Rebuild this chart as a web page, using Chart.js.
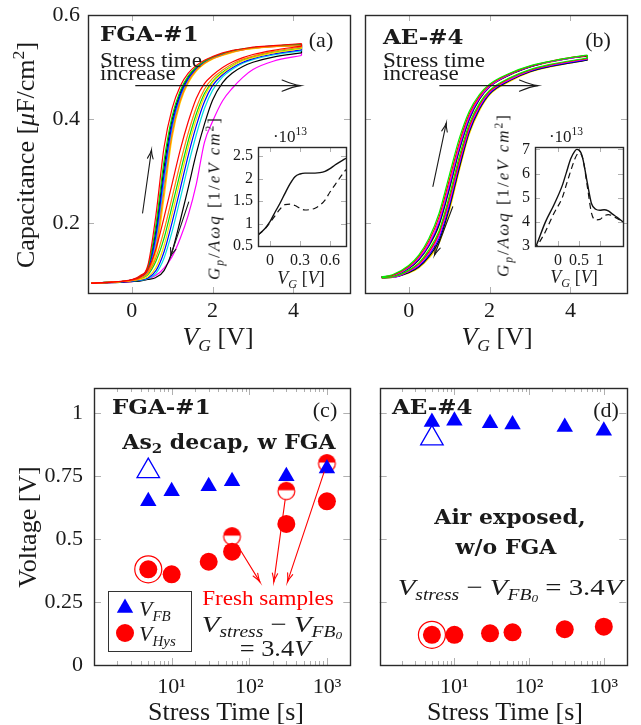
<!DOCTYPE html>
<html>
<head>
<meta charset="utf-8">
<script src="https://cdn.jsdelivr.net/npm/chart.js@4.4.1/dist/chart.umd.min.js"></script>
<style>
  body { margin: 0; width: 641px; height: 725px; position: relative; overflow: hidden; background: #fff;
         font-family: "Liberation Serif", serif; color: #1a1a1a; }
  canvas { position: absolute; }
  .t { position: absolute; white-space: nowrap; line-height: 1; }
  .l { transform-origin: 0 50%; }
  .bf { font-family: "DejaVu Serif", serif; font-weight: bold; }
  .m { font-style: italic; }
  sub { font-size: 68%; vertical-align: -0.32em; line-height: 0; }
  sup { font-size: 68%; vertical-align: 0.55em; line-height: 0; }
  sub sub { vertical-align: -0.22em; }
</style>
</head>
<body>
<canvas id="cvA" width="355" height="330" style="left:0;top:0"></canvas>
<canvas id="cvB" width="286" height="330" style="left:355px;top:0"></canvas>
<canvas id="inA" width="135" height="135" style="left:220px;top:140px"></canvas>
<canvas id="inB" width="141" height="135" style="left:500px;top:140px"></canvas>
<canvas id="stC" width="365" height="355" style="left:0;top:370px"></canvas>
<canvas id="stD" width="276" height="355" style="left:365px;top:370px"></canvas>

<!-- top row text -->
<div class="t" style="left:26px;top:155px;font-size:26px;transform:translate(-50%,-50%) rotate(-90deg)">Capacitance [<span class="m">μ</span>F/cm<sup>2</sup>]</div>
<div class="t" style="left:218px;top:337px;font-size:26px;transform:translate(-50%,-50%)"><span class="m">V<sub>G</sub></span> [V]</div>
<div class="t" style="left:497px;top:337px;font-size:26px;transform:translate(-50%,-50%)"><span class="m">V<sub>G</sub></span> [V]</div>

<div class="t l bf" style="left:100px;top:34px;font-size:20px;transform:translateY(-50%) scaleX(1.15)">FGA-#1</div>
<div class="t l bf" style="left:383px;top:37px;font-size:20px;transform:translateY(-50%) scaleX(1.15)">AE-#4</div>
<div class="t" style="left:321px;top:40px;font-size:22px;transform:translate(-50%,-50%)">(a)</div>
<div class="t" style="left:598px;top:40px;font-size:22px;transform:translate(-50%,-50%)">(b)</div>

<div class="t l" style="left:100px;top:60px;font-size:21px;transform:translateY(-50%) scaleX(1.1)">Stress time</div>
<div class="t l" style="left:100px;top:73px;font-size:21px;transform:translateY(-50%) scaleX(1.1)">increase</div>
<div class="t l" style="left:383px;top:60px;font-size:21px;transform:translateY(-50%) scaleX(1.1)">Stress time</div>
<div class="t l" style="left:383px;top:73px;font-size:21px;transform:translateY(-50%) scaleX(1.1)">increase</div>

<div class="t" style="left:214px;top:198px;font-size:17px;letter-spacing:2px;transform:translate(-50%,-50%) rotate(-90deg)"><span class="m">G<sub>p</sub></span>/<span class="m">Aωq</span> [1/<span class="m">eV cm</span><sup>2</sup>]</div>
<div class="t" style="left:503px;top:195px;font-size:17px;letter-spacing:2px;transform:translate(-50%,-50%) rotate(-90deg)"><span class="m">G<sub>p</sub></span>/<span class="m">Aωq</span> [1/<span class="m">eV cm</span><sup>2</sup>]</div>
<div class="t" style="left:290px;top:136px;font-size:17px;transform:translate(-50%,-50%)">·10<sup>13</sup></div>
<div class="t" style="left:566px;top:136px;font-size:17px;transform:translate(-50%,-50%)">·10<sup>13</sup></div>
<div class="t" style="left:301px;top:278px;font-size:18px;transform:translate(-50%,-50%)"><span class="m">V<sub>G</sub></span> [<span class="m">V</span>]</div>
<div class="t" style="left:574px;top:277px;font-size:18px;transform:translate(-50%,-50%)"><span class="m">V<sub>G</sub></span> [<span class="m">V</span>]</div>

<!-- bottom row text -->
<div class="t" style="left:28px;top:527px;font-size:26px;transform:translate(-50%,-50%) rotate(-90deg)">Voltage [V]</div>
<div class="t" style="left:226px;top:712px;font-size:26px;transform:translate(-50%,-50%)">Stress Time [s]</div>
<div class="t" style="left:505px;top:712px;font-size:26px;transform:translate(-50%,-50%)">Stress Time [s]</div>

<div class="t l bf" style="left:112px;top:407px;font-size:20px;transform:translateY(-50%) scaleX(1.15)">FGA-#1</div>
<div class="t l bf" style="left:392px;top:407px;font-size:20px;transform:translateY(-50%) scaleX(1.15)">AE-#4</div>
<div class="t" style="left:325px;top:410px;font-size:22px;transform:translate(-50%,-50%)">(c)</div>
<div class="t" style="left:606px;top:410px;font-size:22px;transform:translate(-50%,-50%)">(d)</div>

<div class="t bf" style="left:229px;top:442px;font-size:20px;transform:translate(-50%,-50%) scaleX(1.1)">As<sub>2</sub> decap, w FGA</div>
<div class="t" style="left:268px;top:598px;font-size:21px;color:#ff0000;transform:translate(-50%,-50%) scaleX(1.1)">Fresh samples</div>
<div class="t" style="left:272px;top:624px;font-size:24px;transform:translate(-50%,-50%) scaleX(1.2)"><span class="m">V<sub>stress</sub></span> − <span class="m">V<sub>FB<sub>0</sub></sub></span></div>
<div class="t" style="left:275px;top:648px;font-size:24px;transform:translate(-50%,-50%) scaleX(1.1)">= 3.4<span class="m">V</span></div>

<div class="t bf" style="left:510px;top:517px;font-size:20px;transform:translate(-50%,-50%) scaleX(1.1)">Air exposed,</div>
<div class="t bf" style="left:506px;top:547px;font-size:20px;transform:translate(-50%,-50%) scaleX(1.1)">w/o FGA</div>
<div class="t" style="left:510px;top:587px;font-size:24px;transform:translate(-50%,-50%) scaleX(1.2)"><span class="m">V<sub>stress</sub></span> − <span class="m">V<sub>FB<sub>0</sub></sub></span> = 3.4<span class="m">V</span></div>

<div style="position:absolute;left:108px;top:591px;width:84px;height:61px;border:1.3px solid #333;box-sizing:border-box;background:#fff">
  <svg width="84" height="61" style="position:absolute;left:-1px;top:-1px">
    <polygon points="17,7.5 25.2,21.8 8.8,21.8" fill="#0000ff"></polygon>
    <circle cx="17" cy="42" r="9" fill="#ff0000"></circle>
  </svg>
  <div class="t m" style="left:30px;top:17px;font-size:22px;transform:translateY(-50%)">V<sub>FB</sub></div>
  <div class="t m" style="left:30px;top:42px;font-size:22px;transform:translateY(-50%)">V<sub>Hys</sub></div>
</div>

<script>
// ---- C-V sweeps, FGA sample: one loop per stress step (up sweep, down sweep)
var vGridFGA = [-1, -0.5, 0, 0.2, 0.4, 0.6, 0.8, 1.0, 1.2, 1.4, 1.6, 1.8, 2.0, 2.25, 2.5, 2.75, 3.0, 3.5, 4.2];
var colorsFGA = ["#ff0000", "#ff8000", "#ffdd00", "#00e000", "#0000ff", "#00e0e0", "#000000", "#ff00ff"];
var upFGA = [
  [.084, .086, .091, .098, .118, .215, .345, .420, .463, .488, .503, .513, .520, .527, .532, .535, .538, .541, .545],
  [.084, .086, .089, .093, .105, .152, .261, .371, .435, .472, .494, .507, .516, .523, .529, .533, .536, .539, .541],
  [.084, .086, .089, .093, .103, .142, .248, .364, .431, .469, .492, .506, .515, .522, .528, .533, .535, .539, .540],
  [.084, .086, .090, .097, .114, .196, .319, .405, .454, .483, .500, .511, .519, .526, .531, .535, .537, .540, .544],
  [.084, .086, .090, .095, .110, .176, .293, .390, .446, .478, .497, .509, .517, .524, .530, .534, .537, .540, .543],
  [.084, .086, .089, .095, .108, .167, .280, .383, .442, .476, .496, .508, .517, .524, .530, .534, .536, .540, .542],
  [.084, .086, .090, .096, .112, .186, .306, .398, .450, .481, .499, .510, .518, .525, .531, .534, .537, .540, .543],
  [.084, .086, .089, .094, .107, .162, .274, .379, .439, .474, .495, .508, .516, .523, .529, .533, .536, .539, .541]
];
var downFGA = [
  [.084, .086, .090, .095, .110, .150, .210, .275, .340, .395, .440, .468, .484, .499, .510, .518, .524, .532, .540],
  [.084, .086, .089, .093, .103, .133, .185, .249, .314, .373, .422, .457, .478, .494, .506, .515, .521, .530, .538],
  [.084, .086, .089, .091, .096, .114, .156, .217, .282, .346, .400, .443, .470, .488, .502, .512, .518, .527, .535],
  [.084, .086, .089, .092, .100, .126, .170, .232, .296, .358, .410, .449, .472, .490, .503, .513, .519, .528, .536],
  [.084, .086, .088, .090, .094, .108, .144, .201, .265, .330, .387, .433, .464, .485, .499, .509, .516, .525, .533],
  [.084, .086, .088, .089, .093, .103, .132, .183, .246, .311, .370, .420, .455, .481, .496, .507, .514, .523, .531],
  [.084, .085, .087, .088, .091, .095, .108, .145, .204, .268, .334, .390, .436, .470, .489, .501, .509, .519, .527],
  [.084, .085, .087, .089, .092, .099, .113, .135, .170, .215, .275, .355, .395, .435, .460, .480, .495, .511, .522]
];

// ---- C-V sweeps, air exposed sample
var vGridAE = [-0.67, -0.4, 0, 0.25, 0.5, 0.75, 1.0, 1.25, 1.5, 1.75, 2.0, 2.5, 3.0, 3.5, 4.0, 4.42];
var colorsAE = ["#00ee00", "#ff0000", "#ff00ff", "#0000ff", "#000000", "#ffdd00"];
var upAE = [
  [.096, .100, .118, .138, .170, .218, .290, .362, .415, .447, .467, .488, .502, .511, .518, .523],
  [.096, .099, .116, .135, .165, .211, .281, .354, .410, .444, .465, .487, .501, .511, .518, .522],
  [.096, .098, .114, .132, .160, .204, .273, .347, .405, .441, .463, .486, .501, .510, .517, .522],
  [.096, .098, .113, .130, .157, .199, .267, .342, .401, .439, .462, .485, .500, .510, .517, .522],
  [.096, .097, .112, .129, .156, .196, .264, .340, .400, .438, .462, .485, .500, .510, .517, .521],
  [.096, .097, .112, .128, .154, .194, .261, .337, .398, .437, .461, .484, .500, .509, .517, .521]
];
var downAE = [
  [.095, .096, .109, .123, .148, .184, .250, .327, .391, .430, .455, .479, .495, .505, .512, .517],
  [.095, .096, .108, .121, .144, .180, .244, .320, .386, .427, .453, .478, .494, .504, .511, .516],
  [.095, .095, .107, .119, .141, .175, .238, .315, .382, .424, .451, .476, .493, .503, .510, .515],
  [.095, .095, .106, .117, .138, .170, .232, .310, .378, .421, .449, .475, .492, .502, .509, .514],
  [.094, .095, .104, .115, .135, .165, .227, .305, .375, .419, .448, .474, .491, .501, .508, .513],
  [.094, .095, .103, .113, .132, .160, .221, .300, .371, .416, .446, .472, .490, .500, .508, .513]
];

// ---- conductance insets (units of 1e13 1/eVcm^2)
var vInsetFGA = [-0.12, -0.05, 0, 0.05, 0.1, 0.15, 0.2, 0.25, 0.3, 0.35, 0.4, 0.45, 0.5, 0.55, 0.6, 0.65, 0.7, 0.76];
var gpFGAsolid = [0.745, 0.89, 1.04, 1.25, 1.45, 1.67, 1.88, 2.04, 2.10, 2.12, 2.12, 2.12, 2.13, 2.16, 2.22, 2.30, 2.37, 2.45];
var gpFGAdash = [0.745, 0.88, 1.02, 1.17, 1.32, 1.42, 1.43, 1.40, 1.34, 1.30, 1.31, 1.34, 1.41, 1.52, 1.70, 1.86, 2.02, 2.20];
var vInsetAE = [-0.55, -0.5, -0.3, -0.1, 0.1, 0.2, 0.3, 0.4, 0.45, 0.5, 0.55, 0.6, 0.7, 0.8, 0.9, 1.0, 1.1, 1.2, 1.3, 1.4, 1.55];
var gpAEsolid = [2.88, 3.10, 4.00, 4.70, 5.50, 6.05, 6.60, 6.93, 7.00, 6.97, 6.85, 6.55, 5.60, 4.75, 4.52, 4.48, 4.50, 4.45, 4.32, 4.20, 4.00];
var gpAEdash = [2.80, 2.98, 3.60, 4.35, 5.00, 5.55, 6.10, 6.60, 6.78, 6.85, 6.80, 6.55, 5.45, 4.35, 4.08, 4.10, 4.25, 4.30, 4.25, 4.15, 4.00];

// ---- stress time series (V)
var stressTimes = [5, 10, 30, 60, 300, 1000];
var vfbFGA = [0.65, 0.69, 0.71, 0.73, 0.75, 0.78];
var vhysFGA = [0.38, 0.36, 0.41, 0.45, 0.56, 0.65];
var freshTimesFGA = [60, 300, 1000];
var freshHysFGA = [0.51, 0.69, 0.80];
var refTime = [5];
var refVfbFGA = [0.77];
var vfbAE = [0.965, 0.97, 0.96, 0.955, 0.945, 0.93];
var vhysAE = [0.12, 0.12, 0.126, 0.13, 0.142, 0.152];
var refVfbAE = [0.90];

// ---- ticks
var cvXTicks = [0, 2, 4];
var cvYTicks = [0.2, 0.4, 0.6];
var insetFGAxTicks = [0, 0.3, 0.6];
var insetFGAyTicks = [0.5, 1, 1.5, 2, 2.5];
var insetAExTicks = [0, 0.5, 1];
var insetAEyTicks = [3, 4, 5, 6, 7];
var voltTicks = [0, 0.25, 0.5, 0.75, 1];
var timeTicks = [1, 2, 3, 4, 5, 6, 7, 8, 9, 10, 20, 30, 40, 50, 60, 70, 80, 90,
                 100, 200, 300, 400, 500, 600, 700, 800, 900, 1000, 2000];
var timeLabels = { 10: "10¹", 100: "10²", 1000: "10³" };

Chart.defaults.font.family = '"Liberation Serif", serif';
Chart.defaults.color = "#1a1a1a";

function pts(xs, ys) {
  return xs.map(function (x, i) { return { x: x, y: ys[i] }; });
}

function axis(type, min, max, vals, size, pad, fit, fmt) {
  return {
    type: type, min: min, max: max, bounds: "data",
    grid: { display: false, drawTicks: false }, border: { display: false },
    afterBuildTicks: function (s) {
      s.ticks = vals.map(function (v) {
        return { value: v, minor: type === "logarithmic" && !timeLabels[v] };
      });
    },
    afterFit: fit,
    ticks: {
      display: size > 0, autoSkip: false, maxRotation: 0, padding: pad,
      font: { size: size || 10 }, callback: fmt || function (v) { return String(v); }
    }
  };
}
// fixed axis sizes; label overhang must not push the plot area around
function w(n) { return function (s) { s.width = n; s.paddingTop = 0; s.paddingBottom = 0; }; }
function h(n) { return function (s) { s.height = n; s.paddingLeft = 0; s.paddingRight = 0; }; }

// frame + inward tick marks on all four sides
function framePlugin(major, minor, fillWhite) {
  return {
    id: "frame",
    beforeDatasetsDraw: function (chart) {
      var ctx = chart.ctx, a = chart.chartArea, xs = chart.scales.x, ys = chart.scales.y;
      ctx.save();
      if (fillWhite) { ctx.fillStyle = "#fff"; ctx.fillRect(a.left, a.top, a.right - a.left, a.bottom - a.top); }
      ctx.strokeStyle = "#b0b0b0"; ctx.lineWidth = 1;
      ctx.beginPath();
      xs.ticks.forEach(function (t) {
        var p = Math.round(xs.getPixelForValue(t.value)) + 0.5;
        if (p <= a.left + 1 || p >= a.right - 1) return;
        var len = t.minor ? minor : major;
        ctx.moveTo(p, a.bottom); ctx.lineTo(p, a.bottom - len);
        ctx.moveTo(p, a.top); ctx.lineTo(p, a.top + len);
      });
      ys.ticks.forEach(function (t) {
        var p = Math.round(ys.getPixelForValue(t.value)) + 0.5;
        if (p <= a.top + 1 || p >= a.bottom - 1) return;
        ctx.moveTo(a.left, p); ctx.lineTo(a.left + major, p);
        ctx.moveTo(a.right, p); ctx.lineTo(a.right - major, p);
      });
      ctx.stroke();
      ctx.restore();
    },
    afterDraw: function (chart) {
      var ctx = chart.ctx, a = chart.chartArea;
      ctx.save();
      ctx.strokeStyle = "#2a2a2a"; ctx.lineWidth = 1.4;
      ctx.strokeRect(Math.round(a.left) + 0.5, Math.round(a.top) + 0.5, Math.round(a.right - a.left), Math.round(a.bottom - a.top));
      ctx.restore();
    }
  };
}

// arrows given in data coordinates; "gap" trims the tail off a marker
function arrowPlugin(list, color) {
  return {
    id: "arrows",
    afterDraw: function (chart) {
      var ctx = chart.ctx, xs = chart.scales.x, ys = chart.scales.y;
      ctx.save();
      ctx.strokeStyle = color; ctx.lineWidth = 1.1; ctx.lineCap = "round";
      list.forEach(function (ar) {
        var x0 = xs.getPixelForValue(ar.from[0]), y0 = ys.getPixelForValue(ar.from[1]);
        var x1 = xs.getPixelForValue(ar.to[0]), y1 = ys.getPixelForValue(ar.to[1]);
        var ang = Math.atan2(y1 - y0, x1 - x0);
        var g = ar.gap || 0;
        x0 += g * Math.cos(ang); y0 += g * Math.sin(ang);
        ctx.beginPath(); ctx.moveTo(x0, y0); ctx.lineTo(x1, y1); ctx.stroke();
        var L = ar.head, s = ar.spread;
        ctx.beginPath();
        ctx.moveTo(x1 - L * Math.cos(ang - s), y1 - L * Math.sin(ang - s));
        ctx.quadraticCurveTo(x1 - 0.35 * L * Math.cos(ang - s * 0.4), y1 - 0.35 * L * Math.sin(ang - s * 0.4), x1, y1);
        ctx.quadraticCurveTo(x1 - 0.35 * L * Math.cos(ang + s * 0.4), y1 - 0.35 * L * Math.sin(ang + s * 0.4),
                             x1 - L * Math.cos(ang + s), y1 - L * Math.sin(ang + s));
        ctx.stroke();
      });
      ctx.restore();
    }
  };
}

function loopSets(grid, up, down, colors) {
  var sets = [];
  var n = grid.length - 1;
  colors.forEach(function (c, i) {
    var base = { borderColor: c, borderWidth: 1.2, pointRadius: 0, showLine: true, fill: false };
    sets.push(Object.assign({ data: pts(grid, up[i]), cubicInterpolationMode: "monotone" }, base));
    sets.push(Object.assign({ data: pts(grid, down[i]), cubicInterpolationMode: "monotone" }, base));
    sets.push(Object.assign({ data: [{ x: grid[n], y: up[i][n] }, { x: grid[n], y: down[i][n] }], tension: 0 }, base));
  });
  return sets;
}

function baseOpts(pad, scales) {
  return {
    responsive: false, animation: false, devicePixelRatio: 1,
    layout: { padding: pad },
    plugins: { legend: { display: false }, tooltip: { enabled: false } },
    scales: scales
  };
}

// (a) FGA C-V
new Chart(document.getElementById("cvA"), {
  type: "scatter",
  data: { datasets: loopSets(vGridFGA, upFGA, downFGA, colorsFGA) },
  options: baseOpts({ top: 15, right: 5, left: 0, bottom: 0 }, {
    x: axis("linear", -1.08, 5.4, cvXTicks, 22, 5, h(37)),
    y: axis("linear", 0.065, 0.6, cvYTicks, 22, 8, w(88))
  }),
  plugins: [framePlugin(6, 3, false), arrowPlugin([
    { from: [0.1, 0.464], to: [4.17, 0.464], head: 19, spread: 0.3 },
    { from: [0.27, 0.219], to: [0.49, 0.340], head: 9, spread: 0.32 },
    { from: [1.41, 0.240], to: [0.96, 0.135], head: 9, spread: 0.32 }
  ], "#1a1a1a")]
});

// (b) air exposed C-V
new Chart(document.getElementById("cvB"), {
  type: "scatter",
  data: { datasets: loopSets(vGridAE, upAE, downAE, colorsAE) },
  options: baseOpts({ top: 15, right: 14, left: 0, bottom: 0 }, {
    x: axis("linear", -1.08, 5.4, cvXTicks, 22, 5, h(37)),
    y: axis("linear", 0.065, 0.6, cvYTicks, 0, 0, w(10))
  }),
  plugins: [framePlugin(6, 3, false), arrowPlugin([
    { from: [0.77, 0.464], to: [3.19, 0.464], head: 19, spread: 0.3 },
    { from: [0.6, 0.270], to: [0.93, 0.392], head: 9, spread: 0.32 },
    { from: [1.09, 0.231], to: [0.64, 0.138], head: 9, spread: 0.32 }
  ], "#1a1a1a")]
});

function insetSets(xs, solid, dash) {
  return [
    { data: pts(xs, solid), borderColor: "#111", borderWidth: 1.4, pointRadius: 0, showLine: true, cubicInterpolationMode: "monotone" },
    { data: pts(xs, dash), borderColor: "#111", borderWidth: 1.2, borderDash: [6, 4], pointRadius: 0, showLine: true, cubicInterpolationMode: "monotone" }
  ];
}

new Chart(document.getElementById("inA"), {
  type: "scatter",
  data: { datasets: insetSets(vInsetFGA, gpFGAsolid, gpFGAdash) },
  options: baseOpts({ top: 7, right: 9, left: 0, bottom: 0 }, {
    x: axis("linear", -0.12, 0.76, insetFGAxTicks, 16, 5, h(29)),
    y: axis("linear", 0.5, 2.7, insetFGAyTicks, 16, 5, w(38))
  }),
  plugins: [framePlugin(5, 3, true)]
});

new Chart(document.getElementById("inB"), {
  type: "scatter",
  data: { datasets: insetSets(vInsetAE, gpAEsolid, gpAEdash) },
  options: baseOpts({ top: 7, right: 18, left: 0, bottom: 0 }, {
    x: axis("linear", -0.55, 1.55, insetAExTicks, 16, 5, h(29)),
    y: axis("linear", 3, 7.1, insetAEyTicks, 16, 5, w(35))
  }),
  plugins: [framePlugin(5, 3, true)]
});

// half-filled marker for fresh samples
function halfDot(r) {
  var c = document.createElement("canvas");
  var s = Math.ceil(2 * r + 3);
  c.width = s; c.height = s;
  var g = c.getContext("2d"), m = s / 2;
  g.fillStyle = "#fff";
  g.beginPath(); g.arc(m, m, r, 0, 2 * Math.PI); g.fill();
  g.fillStyle = "#ff0000";
  g.beginPath(); g.arc(m, m - 1, r - 0.4, Math.PI, 2 * Math.PI); g.closePath(); g.fill();
  g.strokeStyle = "#ff0000"; g.lineWidth = 1.2;
  g.beginPath(); g.arc(m, m, r - 0.6, 0, 2 * Math.PI); g.stroke();
  return c;
}

function stressSets(vfb, vhys, refVfb, fresh) {
  var sets = [
    { data: pts(refTime, vhys.slice(0, 1)), pointStyle: "circle", pointRadius: 13.5, backgroundColor: "rgba(0,0,0,0)", borderColor: "#ff0000", borderWidth: 1.2 },
    { data: pts(stressTimes, vhys), pointStyle: "circle", pointRadius: 9, backgroundColor: "#ff0000", borderWidth: 0 },
    { data: pts(stressTimes, vfb), pointStyle: "triangle", pointRadius: 9.5, backgroundColor: "#0000ff", borderWidth: 0 },
    { data: pts(refTime, refVfb), pointStyle: "triangle", pointRadius: 13, backgroundColor: "#fff", borderColor: "#0000ff", borderWidth: 1.3 }
  ];
  if (fresh) sets.push({ data: pts(freshTimesFGA, freshHysFGA), pointStyle: halfDot(9), pointRadius: 9 });
  return sets;
}

var freshArrows = [
  { from: [freshTimesFGA[0], freshHysFGA[0]], to: [137, 0.33], gap: 9, head: 9, spread: 0.3 },
  { from: [freshTimesFGA[1], freshHysFGA[1]], to: [207, 0.33], gap: 9, head: 9, spread: 0.3 },
  { from: [freshTimesFGA[2], freshHysFGA[2]], to: [310, 0.33], gap: 9, head: 9, spread: 0.3 }
];

new Chart(document.getElementById("stC"), {
  type: "scatter",
  data: { datasets: stressSets(vfbFGA, vhysFGA, refVfbFGA, true) },
  options: baseOpts({ top: 18, right: 7, left: 0, bottom: 0 }, {
    x: axis("logarithmic", 1, 2000, timeTicks, 22, 9, h(60), function (v) { return timeLabels[v] || ""; }),
    y: axis("linear", 0, 1.1, voltTicks, 22, 11, w(94))
  }),
  plugins: [framePlugin(7, 4, false), arrowPlugin(freshArrows, "#ff0000")]
});

new Chart(document.getElementById("stD"), {
  type: "scatter",
  data: { datasets: stressSets(vfbAE, vhysAE, refVfbAE, false) },
  options: baseOpts({ top: 18, right: 5, left: 0, bottom: 0 }, {
    x: axis("logarithmic", 1, 2000, timeTicks, 22, 9, h(60), function (v) { return timeLabels[v] || ""; }),
    y: axis("linear", 0, 1.1, voltTicks, 0, 0, w(8))
  }),
  plugins: [framePlugin(7, 4, false)]
});
</script>
</body>
</html>
